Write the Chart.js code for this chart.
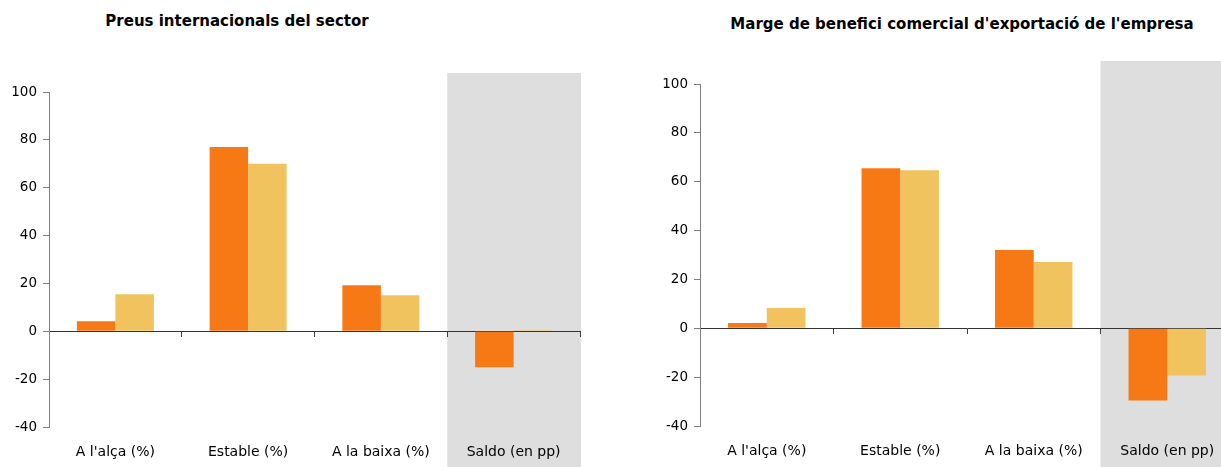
<!DOCTYPE html>
<html>
<head>
<meta charset="utf-8">
<script src="https://cdn.jsdelivr.net/npm/chart.js@4.4.1/dist/chart.umd.min.js"></script>
<style>
  html, body { margin: 0; padding: 0; background: #fff; overflow: hidden; width: 1221px; height: 467px; }
  .panel { position: absolute; top: 0; height: 467px; }
  .title { position: absolute; width: 600px; text-align: center; white-space: nowrap;
           font: bold 15px 'DejaVu Sans', sans-serif; color: #000; }
</style>
</head>
<body>
<div class="title" style="left:-63px; top:12px;">Preus internacionals del sector</div>
<div class="title" style="left:662px; top:15px;">Marge de benefici comercial d'exportació de l'empresa</div>
<div class="panel" style="left:0; width:600px;"><canvas id="preusChart"></canvas></div>
<div class="panel" style="left:620px; width:630px;"><canvas id="margeChart"></canvas></div>

<script>
// ── Dades ──
const categories = ["A l'alça (%)", 'Estable (%)', 'A la baixa (%)', 'Saldo (en pp)'];

const preusActual   = [4.2, 77, 19.2, -15];
const preusPrevisio = [15.5, 70, 15.1, 0.4];

const margeActual   = [2.2, 65.5, 32, -29.6];
const margePrevisio = [8.3, 64.7, 27.1, -19.3];

const yMin = -40;
const yMax = 100;
const yStep = 20;

// ── Estils comuns ──
const FONT = "'DejaVu Sans', sans-serif";
const ORANGE = '#F77915';
const YELLOW = '#F0C35E';
const BAND = '#DEDEDE';

// Franja grisa darrere la categoria "Saldo"
const saldoBand = {
  id: 'saldoBand',
  beforeDraw(chart, args, opts) {
    const x = chart.scales.x;
    const half = (x.getPixelForValue(1) - x.getPixelForValue(0)) / 2;
    const cx = x.getPixelForValue(categories.length - 1);
    const ctx = chart.ctx;
    ctx.save();
    ctx.fillStyle = BAND;
    ctx.fillRect(cx - half, opts.top, half * 2 + 1, chart.height - opts.top);
    ctx.restore();
  }
};

function makeChart(id, actual, previsio, box) {
  const ctx = document.getElementById(id).getContext('2d');
  return new Chart(ctx, {
    type: 'bar',
    data: {
      labels: categories,
      datasets: [
        { label: 'Actual', data: actual, backgroundColor: ORANGE,
          barPercentage: 1, categoryPercentage: 0.58 },
        { label: 'Previsió', data: previsio, backgroundColor: YELLOW,
          barPercentage: 1, categoryPercentage: 0.58 }
      ]
    },
    plugins: [saldoBand],
    options: {
      responsive: true,
      maintainAspectRatio: false,
      animation: false,
      layout: { padding: { top: box.top, right: box.right, left: 0, bottom: 0 } },
      scales: {
        x: {
          position: { y: 0 },
          z: 1,
          ticks: { display: false },
          grid: { drawOnChartArea: false, drawTicks: true, tickLength: 5, color: '#404040', offset: true },
          border: { color: '#333333', width: 1 }
        },
        x2: {
          type: 'category',
          position: 'bottom',
          offset: true,
          labels: categories,
          grid: { display: false, drawTicks: false },
          border: { display: false },
          ticks: { color: '#000', padding: 17, maxRotation: 0, autoSkip: false,
                   font: { family: FONT, size: 14 } },
          afterFit(s) { s.height = box.bottom; }
        },
        y: {
          min: yMin,
          max: yMax,
          ticks: { stepSize: yStep, color: '#000', padding: 6,
                   font: { family: FONT, size: 13.5 } },
          grid: { drawOnChartArea: false, drawTicks: true, tickLength: 6, color: '#7f7f7f' },
          border: { color: '#7f7f7f', width: 1 },
          afterFit(s) { s.width = box.axis; }
        }
      },
      plugins: {
        legend: { display: false },
        tooltip: { enabled: false },
        saldoBand: { top: box.band }
      }
    }
  });
}

makeChart('preusChart', preusActual, preusPrevisio, { top: 92, right: 20, bottom: 40, axis: 49, band: 73 });
makeChart('margeChart', margeActual, margePrevisio, { top: 84, right: 16, bottom: 41, axis: 80, band: 61 });
</script>
</body>
</html>
